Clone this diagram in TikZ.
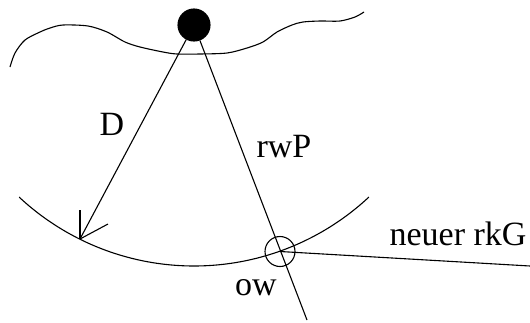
\documentclass[tikz,border=0pt]{standalone}
\usepackage{fontspec}
\setmainfont{Liberation Serif}
\begin{document}
\begin{tikzpicture}[x=0.5pt,y=-0.5pt,
  line width=0.55pt,
  lbl/.style={font=\fontsize{17}{20}\selectfont, inner sep=0pt, anchor=base},
  dot/.style={circle, fill=black, draw=black, minimum size=16pt, inner sep=0pt},
  ring/.style={circle, draw=black, minimum size=15pt, inner sep=0pt, line width=0.55pt}]
\useasboundingbox (0,0) rectangle (530,322);
% wavy line
\draw plot[smooth, tension=0.5] coordinates {(10,67) (15,53) (25,40) (40,32) (50,28) (63,25) (88,26) (107,32) (125,42) (140,47) (163,52) (177,54) (200,54) (227,53) (247,48) (263,42) (277,32) (292,25) (303,22) (320,21) (340,21) (355,17) (364,12)};
% arc
\draw plot[domain=47:133, samples=120, smooth] ({194+256.4*cos(\x)}, {9.6+256.4*sin(\x)});
% nodes
\node[dot] (sun) at (194,25) {};
\node[ring] (owc) at (280,251.5) {};
\coordinate (tip) at (80,239);
\coordinate (barbA) at (80,210);
\coordinate (barbB) at (108,224);
\coordinate (rwend) at (307,320);
\coordinate (rkgend) at (530,266);
% connectors
\draw (sun) -- (tip);
\draw (tip) -- (barbA);
\draw (tip) -- (barbB);
\draw (sun) -- (rwend);
\draw (owc.center) -- (rkgend);
% labels
\node[lbl] (lD) at (112,135) {D};
\node[lbl] (lrwP) at (284,157) {rwP};
\node[lbl] (low) at (256,295) {ow};
\node[lbl] (lrkg) at (458,245) {neuer rkG};
\end{tikzpicture}
\end{document}
